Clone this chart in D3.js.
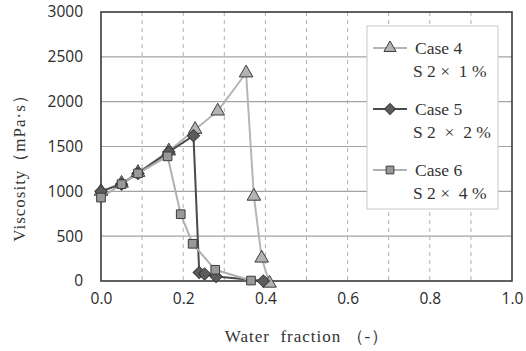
<!DOCTYPE html>
<html>
<head>
<meta charset="utf-8">
<script src="https://cdn.jsdelivr.net/npm/d3@7"></script>
<style>
  body { margin: 0; background: #fff; }
  svg { display: block; }
</style>
</head>
<body>
<script>
// data
var case4X = [0.0, 0.05, 0.09, 0.165, 0.229, 0.284, 0.353, 0.372, 0.391, 0.41];
var case4Y = [1000, 1090, 1210, 1450, 1690, 1895, 2320, 945, 255, -25];
var case5X = [0.0, 0.05, 0.09, 0.165, 0.225, 0.239, 0.252, 0.28, 0.395];
var case5Y = [1000, 1080, 1200, 1440, 1620, 95, 78, 50, 0];
var case6X = [0.0, 0.05, 0.09, 0.162, 0.194, 0.223, 0.278, 0.365];
var case6Y = [930, 1080, 1200, 1390, 745, 415, 125, 5];
var yTicks = [0, 500, 1000, 1500, 2000, 2500, 3000];
var xTicks = [0.0, 0.2, 0.4, 0.6, 0.8, 1.0];
var legendNames = ["Case 4", "Case 5", "Case 6"];
var legendSubs = ["S 2 ×  1 %", "S 2  ×  2 %", "S 2 ×  4 %"];

var symbols = [d3.symbolTriangle, d3.symbolSquare, d3.symbolSquare];
var symbolSizes = [80, 75, 75];
var symbolRotate = [0, 45, 0];

main();

function main() {
  setupCanvasSize();
  appendSvg("body");
  setupScales();
  appendGrid();
  appendAxes();
  appendSeries();
  appendLegend();
  addTitles();
}

function setupCanvasSize() {
  margin = { top: 12, left: 101, bottom: 70, right: 14 };
  width = 526 - margin.left - margin.right;
  height = 351 - margin.top - margin.bottom;
}

function appendSvg(domElement) {
  root = d3.select(domElement).append("svg")
    .attr("width", 526)
    .attr("height", 351);
  svg = root.append("g")
    .attr("transform", `translate(${margin.left}, ${margin.top})`);
}

function setupScales() {
  x = d3.scaleLinear().domain([0, 1]).range([0, width]);
  y = d3.scaleLinear().domain([0, 3000]).range([height, 0]);
}

function appendGrid() {
  svg.selectAll(".hgrid")
    .data(yTicks.slice(1, -1))
    .enter().append("line")
    .attr("x1", 0).attr("x2", width)
    .attr("y1", d => y(d)).attr("y2", d => y(d))
    .attr("stroke", "#a3a3a3").attr("stroke-width", 1.2);

  svg.selectAll(".vgrid")
    .data(d3.range(1, 10).map(d => d / 10))
    .enter().append("line")
    .attr("x1", d => x(d)).attr("x2", d => x(d))
    .attr("y1", 0).attr("y2", height)
    .attr("stroke", "#b0b0b0").attr("stroke-width", 1)
    .attr("stroke-dasharray", "4,4");
}

function appendAxes() {
  var yAxis = svg.append("g")
    .call(d3.axisLeft(y).tickValues(yTicks).tickFormat(d3.format("d")).tickSize(0).tickPadding(18));
  yAxis.select(".domain").remove();
  yAxis.selectAll("text")
    .style("font-family", "'Open Sans', sans-serif")
    .style("font-size", "15.5px")
    .attr("fill", "#2a2a2a");

  var xAxis = svg.append("g")
    .attr("transform", `translate(0, ${height})`)
    .call(d3.axisBottom(x).tickValues(xTicks).tickFormat(d3.format(".1f")).tickSize(0).tickPadding(12));
  xAxis.select(".domain").remove();
  xAxis.selectAll("text")
    .style("font-family", "'Open Sans', sans-serif")
    .style("font-size", "15.5px")
    .attr("fill", "#2a2a2a");

  // plot frame
  svg.append("rect")
    .attr("width", width).attr("height", height)
    .attr("fill", "none")
    .attr("stroke", "#3a3a3a").attr("stroke-width", 1.6);
}

function seriesStyle(i) {
  return [
    { line: "#b5b5b5", fill: "#b3b3b3", width: 2 },
    { line: "#4a4a4a", fill: "#5c5c5c", width: 2 },
    { line: "#b0b0b0", fill: "#999999", width: 2 }
  ][i];
}

function appendSeries() {
  var all = [
    d3.zip(case4X, case4Y),
    d3.zip(case5X, case5Y),
    d3.zip(case6X, case6Y)
  ];
  var valueline = d3.line()
    .x(d => x(d[0]))
    .y(d => y(d[1]));

  all.forEach(function (data, i) {
    var st = seriesStyle(i);
    svg.append("path")
      .datum(data)
      .attr("d", valueline)
      .attr("fill", "none")
      .attr("stroke", st.line)
      .attr("stroke-width", st.width);
  });

  all.forEach(function (data, i) {
    var st = seriesStyle(i);
    svg.selectAll(".pt" + i)
      .data(data)
      .enter().append("path")
      .attr("class", "pt" + i)
      .attr("transform", d => `translate(${x(d[0])}, ${y(d[1])}) rotate(${symbolRotate[i]})`)
      .attr("d", d3.symbol().type(symbols[i]).size(symbolSizes[i]))
      .attr("fill", st.fill)
      .attr("stroke", "#3c3c3c")
      .attr("stroke-width", 1);
  });
}

function appendLegend() {
  var lg = root.append("g").attr("transform", "translate(367, 26)");
  lg.append("rect")
    .attr("width", 131).attr("height", 183)
    .attr("fill", "#fff")
    .attr("stroke", "#c8c8c8").attr("stroke-width", 1);

  legendNames.forEach(function (name, i) {
    var st = seriesStyle(i);
    var cy = 22 + i * 61;
    lg.append("line")
      .attr("x1", 6).attr("x2", 40)
      .attr("y1", cy).attr("y2", cy)
      .attr("stroke", st.line).attr("stroke-width", 2);
    lg.append("path")
      .attr("transform", `translate(23, ${cy}) rotate(${symbolRotate[i]})`)
      .attr("d", d3.symbol().type(symbols[i]).size(symbolSizes[i] * 0.8))
      .attr("fill", st.fill)
      .attr("stroke", "#3c3c3c");
    lg.append("text")
      .attr("x", 48).attr("y", cy + 6)
      .style("font-family", "'Liberation Serif', serif")
      .style("font-size", "17.5px")
      .attr("fill", "#333")
      .text(name);
    lg.append("text")
      .attr("x", 46).attr("y", cy + 29)
      .style("font-family", "'Liberation Serif', serif")
      .style("font-size", "17.5px")
      .style("white-space", "pre")
      .attr("fill", "#333")
      .text(legendSubs[i]);
  });
}

function addTitles() {
  root.append("text")
    .attr("transform", "translate(25, 164) rotate(-90)")
    .attr("text-anchor", "middle")
    .style("font-family", "'Liberation Serif', serif")
    .style("font-size", "17px")
    .style("letter-spacing", "1px")
    .attr("fill", "#333")
    .text("Viscosity（mPa·s）");

  root.append("text")
    .attr("x", 307).attr("y", 342)
    .attr("text-anchor", "middle")
    .style("font-family", "'Liberation Serif', serif")
    .style("font-size", "17px")
    .style("letter-spacing", "1px")
    .style("white-space", "pre")
    .attr("fill", "#333")
    .text("Water  fraction （-）");
}
</script>
</body>
</html>
